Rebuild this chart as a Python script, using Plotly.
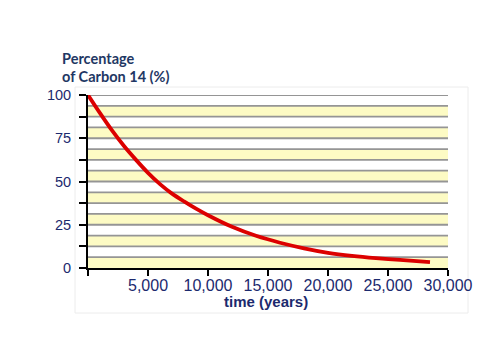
import plotly.graph_objects as go

# Data
years = [0, 1000, 2000, 3000, 4000, 5000, 6000, 7000, 8000, 9000, 10000,
         12000, 14000, 16000, 18000, 20000, 22000, 24000, 26000, 28500]
percent = [100, 89.5, 79.5, 70.5, 62.5, 55, 48.5, 43, 38.5, 34.3, 30.5,
           23.8, 18.6, 14.6, 11.4, 8.8, 7.0, 5.7, 4.7, 3.4]

x_tickvals = [0, 5000, 10000, 15000, 20000, 25000, 30000]
x_ticktext = ["", "5,000", "10,000", "15,000", "20,000", "25,000", "30,000"]
y_tickvals = [0, 12.5, 25, 37.5, 50, 62.5, 75, 87.5, 100]
y_ticktext = ["0", "", "25", "", "50", "", "75", "", "100"]

NAVY = "#1c2a6e"
TITLE = "#1f3864"

L, R, T, B = 88, 52, 95, 86
W, H = 500, 354

fig = go.Figure()

shapes = []
# striped background bands (yellow lower half of each 12.5 interval)
for v in y_tickvals[:-1]:
    shapes.append(dict(type="rect", xref="paper", yref="y", x0=0, x1=1,
                       y0=v, y1=v + 6.25, fillcolor="#fdfbc4",
                       line=dict(width=0), layer="below"))
# gray lines every 6.25
k = 1
while k * 6.25 <= 100.001:
    yv = k * 6.25
    shapes.append(dict(type="line", xref="paper", yref="y", x0=0, x1=1,
                       y0=yv, y1=yv, line=dict(color="#959595", width=1.8),
                       layer="below"))
    k += 1
# faint outer frame
pw = W - L - R
ph = H - T - B
shapes.append(dict(type="rect", xref="paper", yref="paper",
                   x0=(75 - L) / pw, x1=(468 - L) / pw,
                   y0=(H - B - 313) / ph, y1=(H - B - 87) / ph,
                   line=dict(color="#ececec", width=1), layer="below"))

fig.add_trace(go.Scatter(x=years, y=percent, mode="lines",
                         line=dict(color="#dc0000", width=3.8, shape="spline", smoothing=0.8),
                         hoverinfo="skip", showlegend=False))

fig.update_layout(
    width=W, height=H,
    margin=dict(l=L, r=R, t=T, b=B, autoexpand=False),
    paper_bgcolor="white", plot_bgcolor="white",
    shapes=shapes,
    xaxis=dict(range=[0, 30000], tickvals=x_tickvals, ticktext=x_ticktext,
               ticks="outside", ticklen=6, tickwidth=2, tickcolor="black",
               showline=True, linecolor="black", linewidth=2,
               showgrid=False, zeroline=False, ticklabelstandoff=-4,
               tickfont=dict(family="Liberation Sans", size=16, color=NAVY)),
    yaxis=dict(range=[0, 100], tickvals=y_tickvals, ticktext=y_ticktext,
               ticks="outside", ticklen=7, tickwidth=2, tickcolor="black",
               showline=True, linecolor="black", linewidth=2,
               showgrid=False, zeroline=False, ticklabelstandoff=5,
               tickfont=dict(family="Liberation Sans", size=14.5, color=NAVY)),
    annotations=[
        dict(text="<b>Percentage</b>", xref="paper", yref="paper",
             x=(60 - L) / pw, y=(H - B - 58) / ph, xanchor="left", yanchor="middle",
             showarrow=False, font=dict(family="Lato", size=14.5, color=TITLE)),
        dict(text="<b>of Carbon 14 (%)</b>", xref="paper", yref="paper",
             x=(60 - L) / pw, y=(H - B - 76) / ph, xanchor="left", yanchor="middle",
             showarrow=False, font=dict(family="Lato", size=14.5, color=TITLE)),
        dict(text="<b>time (years)</b>", xref="paper", yref="paper",
             x=(266 - L) / pw, y=(H - B - 301) / ph, xanchor="center", yanchor="middle",
             showarrow=False, font=dict(family="Liberation Sans", size=15, color=NAVY)),
    ],
)

fig.write_html("out.html")
